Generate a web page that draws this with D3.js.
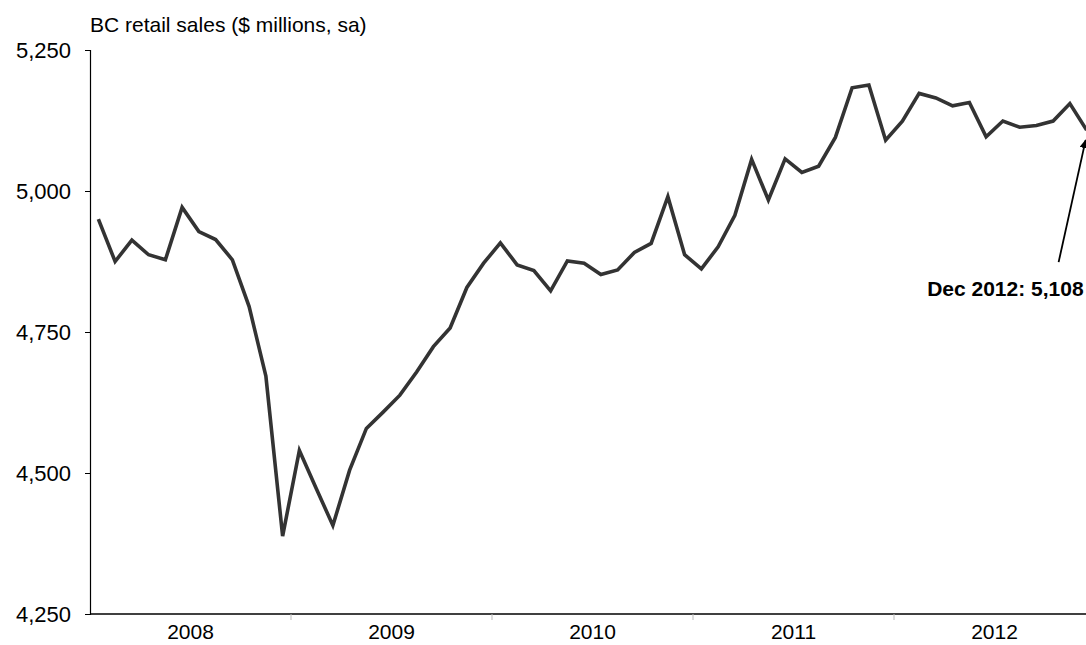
<!DOCTYPE html>
<html>
<head>
<meta charset="utf-8">
<script src="https://cdn.jsdelivr.net/npm/d3@7"></script>
<style>
  body { margin: 0; background: #fff; }
  text { font-family: "Liberation Sans", Arial, sans-serif; }
</style>
</head>
<body>
<svg width="1086" height="645"></svg>
<script>
// Monthly BC retail sales, Jan 2008 - Dec 2012 ($ millions, sa)
const years = ["2008", "2009", "2010", "2011", "2012"];
const sales = [
  4950, 4875, 4913, 4887, 4878, 4971, 4928, 4914, 4878, 4795, 4672, 4388,
  4540, 4473, 4407, 4505, 4579, 4608, 4638, 4679, 4724, 4757, 4829, 4872,
  4908, 4869, 4859, 4823, 4876, 4872, 4852, 4860, 4891, 4907, 4990, 4887,
  4862, 4901, 4957, 5056, 4984, 5057, 5033, 5044, 5095, 5183, 5188, 5090,
  5124, 5173, 5165, 5151, 5157, 5096, 5124, 5113, 5116, 5124, 5155, 5108
];
const yTicks = [4250, 4500, 4750, 5000, 5250];
const title = "BC retail sales ($ millions, sa)";
const note = "Dec 2012: 5,108";

const svg = d3.select("svg"),
    margin = { top: 50, left: 90, bottom: 31 },
    height = +svg.attr("height") - margin.top - margin.bottom;

// x scale in months, each point sits in the middle of its month
const x = d3.scaleLinear()
    .domain([0, sales.length])
    .range([margin.left, margin.left + sales.length * 16.75]);

const y = d3.scaleLinear()
    .domain([4250, 5250])
    .range([margin.top + height, margin.top]);

const fmt = d3.format(",");

// Y axis
const yAxis = svg.append("g")
    .attr("transform", `translate(${margin.left},0)`)
    .call(d3.axisLeft(y).tickValues(yTicks).tickFormat(fmt).tickSize(5).tickPadding(14));
yAxis.select(".domain").attr("stroke", "#000").attr("stroke-width", 1.2);
yAxis.selectAll(".tick line").attr("stroke", "#000");
yAxis.selectAll(".tick text")
    .attr("font-size", "22px")
    .attr("fill", "#000")
    .attr("font-family", "Liberation Sans, Arial, sans-serif");

// X axis baseline
const y0 = y(4250);
svg.append("line")
    .attr("x1", margin.left).attr("x2", x(sales.length))
    .attr("y1", y0).attr("y2", y0)
    .attr("stroke", "#000").attr("stroke-width", 1.5);

// Year separators and labels
years.forEach((yr, i) => {
    if (i > 0) {
        svg.append("line")
            .attr("x1", x(i * 12)).attr("x2", x(i * 12))
            .attr("y1", y0).attr("y2", y0 + 6)
            .attr("stroke", "#bbb");
    }
    svg.append("text")
        .attr("x", x(i * 12 + 6))
        .attr("y", y0 + 25)
        .attr("text-anchor", "middle")
        .attr("font-size", "21px")
        .text(yr);
});

// Title
svg.append("text")
    .attr("x", margin.left)
    .attr("y", 32)
    .attr("font-size", "21px")
    .text(title);

// Sales line
const line = d3.line()
    .x((d, i) => x(i + 0.5))
    .y(d => y(d));

svg.append("path")
    .datum(sales)
    .attr("d", line)
    .attr("fill", "none")
    .attr("stroke", "#333")
    .attr("stroke-width", 3.6)
    .attr("stroke-linejoin", "miter");

// Annotation arrow for last point
svg.append("defs").append("marker")
    .attr("id", "head")
    .attr("viewBox", "0 0 10 10")
    .attr("refX", 9).attr("refY", 5)
    .attr("markerWidth", 5).attr("markerHeight", 5)
    .attr("orient", "auto")
    .append("path")
    .attr("d", "M0,0L10,5L0,10Z")
    .attr("fill", "#000");

const lastX = x(sales.length - 0.5),
      lastY = y(sales[sales.length - 1]);

svg.append("line")
    .attr("x1", lastX - 28).attr("y1", lastY + 132)
    .attr("x2", lastX - 1).attr("y2", lastY + 10)
    .attr("stroke", "#000")
    .attr("stroke-width", 1.8)
    .attr("marker-end", "url(#head)");

svg.append("text")
    .attr("x", lastX - 3)
    .attr("y", lastY + 166)
    .attr("text-anchor", "end")
    .attr("font-size", "21px")
    .attr("font-weight", "bold")
    .text(note);
</script>
</body>
</html>
